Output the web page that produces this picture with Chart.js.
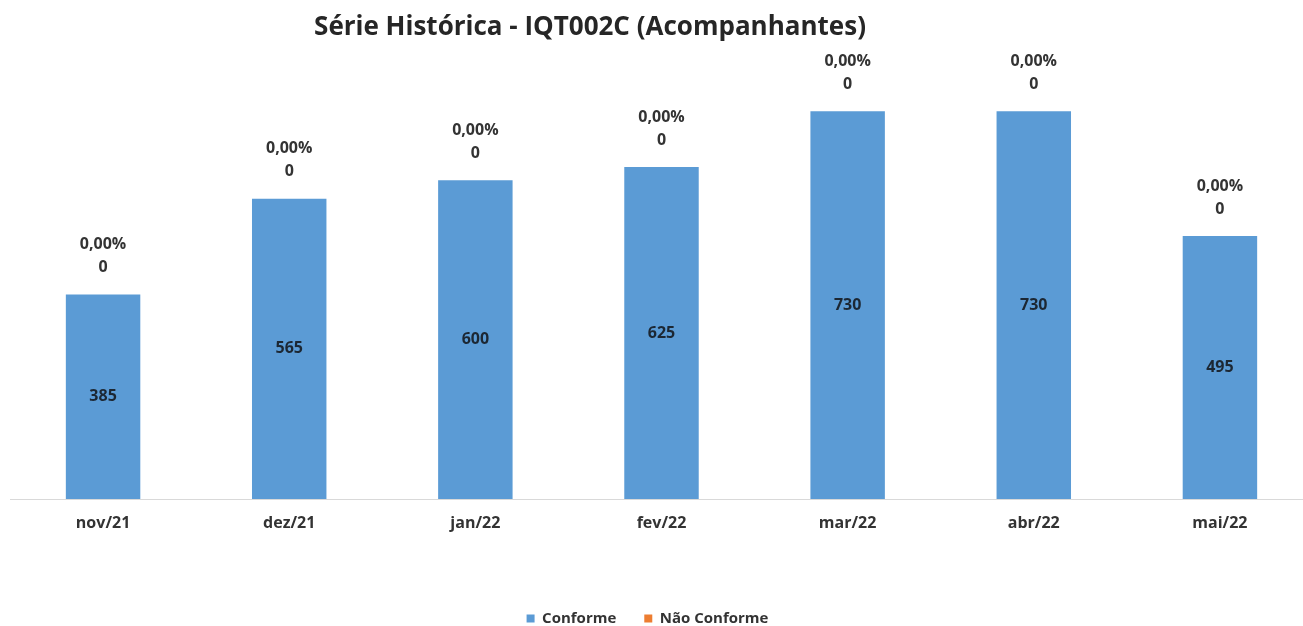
<!DOCTYPE html>
<html>
<head>
<meta charset="utf-8">
<script src="https://cdn.jsdelivr.net/npm/chart.js@4"></script>
<style>
  html, body { margin: 0; padding: 0; background: #fff; overflow: hidden; }
</style>
</head>
<body>
<canvas id="chart" width="1313" height="626"></canvas>
<script>
const titleText = "Série Histórica - IQT002C (Acompanhantes)";
const months = ["nov/21", "dez/21", "jan/22", "fev/22", "mar/22", "abr/22", "mai/22"];
const conforme = [385, 565, 600, 625, 730, 730, 495];
const naoConforme = [0, 0, 0, 0, 0, 0, 0];

const FONT = "'Open Sans', sans-serif";
const pctText = i => {
  const tot = conforme[i] + naoConforme[i];
  return (tot ? naoConforme[i] / tot * 100 : 0).toFixed(2).replace(".", ",") + "%";
};

/* labels + title */
const labelsPlugin = {
  id: "labels",
  afterLayout(c) {
    // legend sits a bit left of canvas centre in the original
    c.legend.left -= 14;
    c.legend.right -= 14;
  },
  afterDatasetsDraw(c) {
    const ctx = c.ctx;
    ctx.save();
    ctx.textAlign = "center";
    ctx.textBaseline = "middle";

    // values inside bars
    ctx.font = "bold 16px " + FONT;
    ctx.fillStyle = "#1c2733";
    c.getDatasetMeta(0).data.forEach((b, i) => {
      ctx.fillText(conforme[i], b.x, (b.y + b.base) / 2);
    });

    // nao conforme value and pct above stack
    ctx.fillStyle = "#333";
    c.getDatasetMeta(1).data.forEach((b, i) => {
      ctx.fillText(naoConforme[i], b.x, b.y - 27);
      ctx.fillText(pctText(i), b.x, b.y - 50);
    });

    // title
    ctx.font = "bold 26px " + FONT;
    ctx.fillStyle = "#262626";
    ctx.fillText(titleText, 590, 28);
    ctx.restore();
  }
};

new Chart(document.getElementById("chart"), {
  type: "bar",
  data: {
    labels: months,
    datasets: [
      { label: "Conforme", data: conforme, backgroundColor: "#5b9bd5", barPercentage: 0.4, categoryPercentage: 1 },
      { label: "Não Conforme", data: naoConforme, backgroundColor: "#ed7d31", barPercentage: 0.4, categoryPercentage: 1 }
    ]
  },
  options: {
    responsive: false,
    animation: false,
    layout: { padding: { top: 74, left: 10, right: 0, bottom: -10 } },
    plugins: {
      title: { display: false },
      tooltip: { enabled: false },
      legend: {
        position: "bottom",
        labels: {
          boxWidth: 8, boxHeight: 8, padding: 28,
          color: "#333",
          font: { family: FONT, size: 15, weight: "bold" }
        }
      }
    },
    scales: {
      x: {
        stacked: true,
        grid: { display: false },
        border: { display: true, color: "#d9d9d9", width: 1 },
        ticks: { color: "#333", padding: 7, font: { family: FONT, size: 16, weight: "bold" } },
        afterFit: s => { s.height = 84; }
      },
      y: { stacked: true, display: false, min: 0, max: 800 }
    }
  },
  plugins: [labelsPlugin]
});
</script>
</body>
</html>
